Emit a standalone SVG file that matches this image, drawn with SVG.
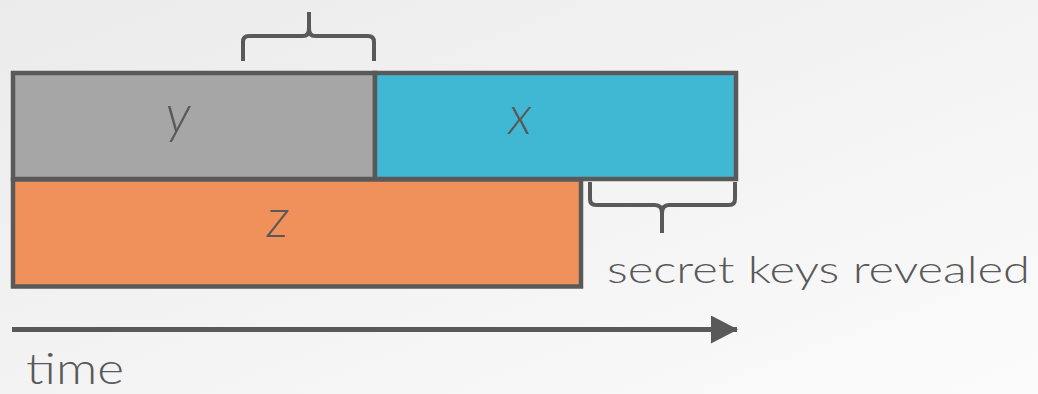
<svg xmlns="http://www.w3.org/2000/svg" width="1038" height="394" viewBox="0 0 1038 394">
<defs>
<linearGradient id="bg" x1="0" y1="0" x2="1" y2="1">
<stop offset="0" stop-color="#ebebeb"/>
<stop offset="1" stop-color="#fbfbfb"/>
</linearGradient>
<marker id="ah" markerUnits="userSpaceOnUse" markerWidth="30" markerHeight="28" refX="26" refY="14" orient="auto">
<path d="M0,0 L27,14 L0,28 Z" fill="#595959"/>
</marker>
<style>
.box{stroke:#595959;stroke-width:4.5}
.lbl{font-family:"Lato","Liberation Sans",sans-serif;font-size:54px;font-weight:300;font-style:italic;fill:#595959;text-anchor:middle}
.txt{font-family:"Lato","Liberation Sans",sans-serif;font-size:38px;font-weight:300;fill:#595959}
.big{font-size:43px}
.brace{fill:none;stroke:#595959;stroke-width:4;stroke-linejoin:round}
</style>
</defs>
<rect width="1038" height="394" fill="url(#bg)"/>
<g id="node-y">
<rect class="box" x="13" y="73" width="362" height="106" fill="#a6a6a6"/>
<text class="lbl" x="178" y="133">y</text>
</g>
<g id="node-x">
<rect class="box" x="375" y="73" width="361" height="106" fill="#40b8d4"/>
<text class="lbl" x="520" y="134">x</text>
</g>
<g id="node-z">
<rect class="box" x="13" y="179.5" width="568" height="107" fill="#f0915c"/>
<text class="lbl" x="278" y="237">z</text>
</g>
<g id="brace-top">
<path class="brace" d="M243,61 L243,42 Q243,36 249,36 L303,36 Q309,36 309,28 L309,12 M309,28 Q309,36 315,36 L368,36 Q374,36 374,42 L374,61"/>
</g>
<g id="brace-bottom">
<path class="brace" d="M590,182 L590,199 Q590,205 596,205 L655,205 Q662,205 662,213 L662,233 M662,213 Q662,205 669,205 L729,205 Q735,205 735,199 L735,182"/>
<text class="txt" x="607" y="283" textLength="423" lengthAdjust="spacingAndGlyphs">secret keys revealed</text>
</g>
<g id="connectors">
<line x1="12" y1="329.5" x2="737" y2="329.5" stroke="#595959" stroke-width="5" marker-end="url(#ah)"/>
</g>
<g id="label-time">
<text class="txt big" x="26" y="384" textLength="98" lengthAdjust="spacingAndGlyphs">time</text>
</g>
</svg>
